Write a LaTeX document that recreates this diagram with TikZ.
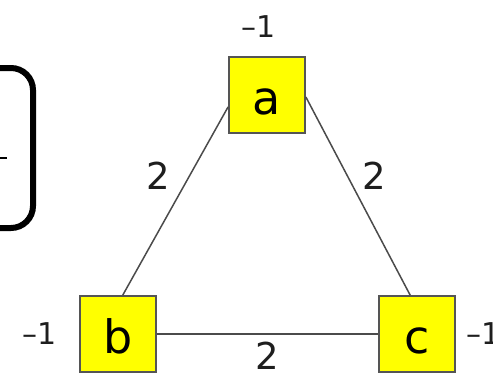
\documentclass[tikz,border=0pt]{standalone}
\usepackage{fontspec}
\setmainfont{DejaVu Sans}
\begin{document}
\begin{tikzpicture}[x=1pt, y=-1pt,
	vertex/.style={draw=boxline, fill=boxfill, line width=1.8pt, minimum width=76pt, minimum height=76pt, inner sep=0pt, text height=38pt, text depth=0pt, font=\fontsize{46}{50}\selectfont},
	edge/.style={draw=edgeline, line width=1.5pt},
	weight/.style={inner sep=0pt, text=labeltext, font=\fontsize{37}{40}\selectfont},
	charge/.style={inner sep=0pt, text=labeltext, font=\fontsize{30}{34}\selectfont}]
	% Define custom colors
	\definecolor{boxfill}{RGB}{255, 255, 0}
	\definecolor{boxline}{RGB}{85, 85, 85}
	\definecolor{edgeline}{RGB}{75, 75, 75}
	\definecolor{labeltext}{RGB}{30, 30, 30}
	\useasboundingbox (0, 0) rectangle (493, 378);
	% bracket cut off at the left
	\draw[black, line width=6pt, rounded corners=22pt] (-20, 68) -- (33, 68) -- (33, 228) -- (-20, 228);
	\draw[black, line width=1.1pt] (0, 158) -- (7, 158);
	% vertices
	\node[vertex] (a) at (267, 95) {a};
	\node[vertex] (b) at (118, 334) {b};
	\node[vertex] (c) at (417, 334) {c};
	% edges
	\draw[edge] (a.197) -- (b.83);
	\draw[edge] (a.357) -- (c.100);
	\draw[edge] (b) -- (c);
	% edge weights
	\node[weight] (wab) at (158, 176) {2};
	\node[weight] (wac) at (374, 176) {2};
	\node[weight] (wbc) at (267, 356) {2};
	% vertex charges
	\node[charge] (qa) at (259, 27) {–1};
	\node[charge] (qb) at (40, 334) {–1};
	\node[charge] (qc) at (484, 334) {–1};
\end{tikzpicture}
\end{document}
